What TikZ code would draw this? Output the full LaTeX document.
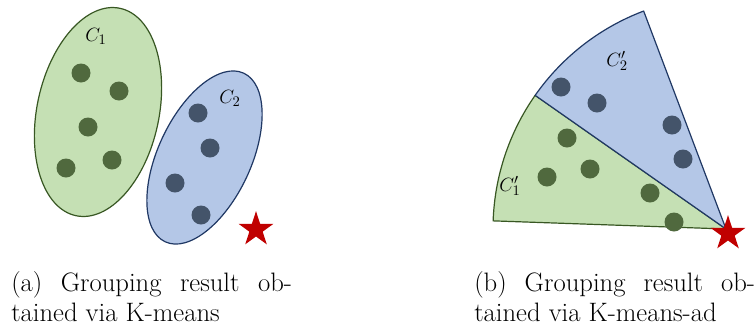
\documentclass[tikz,border=0pt]{standalone}
\usepackage{tikz}
\usetikzlibrary{shapes.geometric,calc}
\definecolor{leaf}{RGB}{197,224,180}
\definecolor{leafline}{RGB}{56,87,35}
\definecolor{leafdot}{RGB}{80,105,62}
\definecolor{sky}{RGB}{180,199,231}
\definecolor{skyline}{RGB}{32,56,100}
\definecolor{skydot}{RGB}{68,84,106}
\definecolor{outlier}{RGB}{192,0,0}
\tikzset{
  grp/.style={ellipse,draw=#1line,fill=#1,line width=0.9pt,inner sep=0pt},
  pt/.style={circle,fill=#1dot,minimum size=14.25pt,inner sep=0pt},
  far/.style={star,star points=5,star point ratio=2.618,fill=outlier,
              minimum size=27.5pt,inner sep=0pt},
  lbl/.style={font=\fontsize{15}{18}\selectfont},
  subcap/.style={font=\fontsize{20}{22.5}\selectfont,text width=210.5pt,align=justify,
              anchor=north west,inner sep=0pt},
}
\begin{document}
\begin{tikzpicture}[x=0.75pt,y=0.75pt]
  \useasboundingbox (0,0) rectangle (756,-329);
  % (a) K-means
  \node[grp=leaf,minimum width=91.5pt,minimum height=159pt,rotate=-12] (c1) at (98,-112) {};
  \node[grp=sky,minimum width=69.75pt,minimum height=139.5pt,rotate=-25] (c2) at (204.5,-157.5) {};
  \node[lbl] (l1) at (96,-36) {$C_1$};
  \node[lbl] (l2) at (230,-98) {$C_2$};
  \node[pt=leaf] (a1) at (81,-73) {}; \node[pt=leaf] (a2) at (119,-91) {};
  \node[pt=leaf] (a3) at (88,-127) {}; \node[pt=leaf] (a4) at (66,-168) {};
  \node[pt=leaf] (a5) at (112,-160) {};
  \node[pt=sky] (b1) at (198,-113) {}; \node[pt=sky] (b2) at (210,-148) {};
  \node[pt=sky] (b3) at (175,-183) {}; \node[pt=sky] (b4) at (201,-215) {};
  \node[far] (s1) at (256,-229.5) {};
  % (b) K-means-ad
  \coordinate (apex) at (726,-229);
  \coordinate (cut) at ($(apex)+(145:233)$);
  \filldraw[fill=leaf,draw=leafline,line width=0.9pt,line join=round]
    (apex) -- ++(178:233) arc[start angle=178,end angle=145,radius=233] -- cycle;
  \filldraw[fill=sky,draw=skyline,line width=0.9pt,line join=round]
    (apex) -- (cut) arc[start angle=145,end angle=110.7,radius=233] -- cycle;
  \node[lbl] (m1) at (510,-186) {$C_1'$};
  \node[lbl] (m2) at (617,-61) {$C_2'$};
  \node[pt=sky] (d1) at (561,-87) {}; \node[pt=sky] (d2) at (597,-103) {};
  \node[pt=sky] (d3) at (672,-125) {}; \node[pt=sky] (d4) at (683,-159) {};
  \node[pt=leaf] (e1) at (567,-138) {}; \node[pt=leaf] (e2) at (590,-169) {};
  \node[pt=leaf] (e3) at (547,-177) {}; \node[pt=leaf] (e4) at (650,-193) {};
  \node[pt=leaf] (e5) at (674,-222) {};
  \node[far] (s2) at (728,-233.5) {};
  % captions
  \node[subcap] (ca) at (11,-271) {(a) Grouping result ob-\linebreak tained via K-means};
  \node[subcap] (cb) at (474,-271) {(b) Grouping result ob-\linebreak tained via K-means-ad};
\end{tikzpicture}
\end{document}
